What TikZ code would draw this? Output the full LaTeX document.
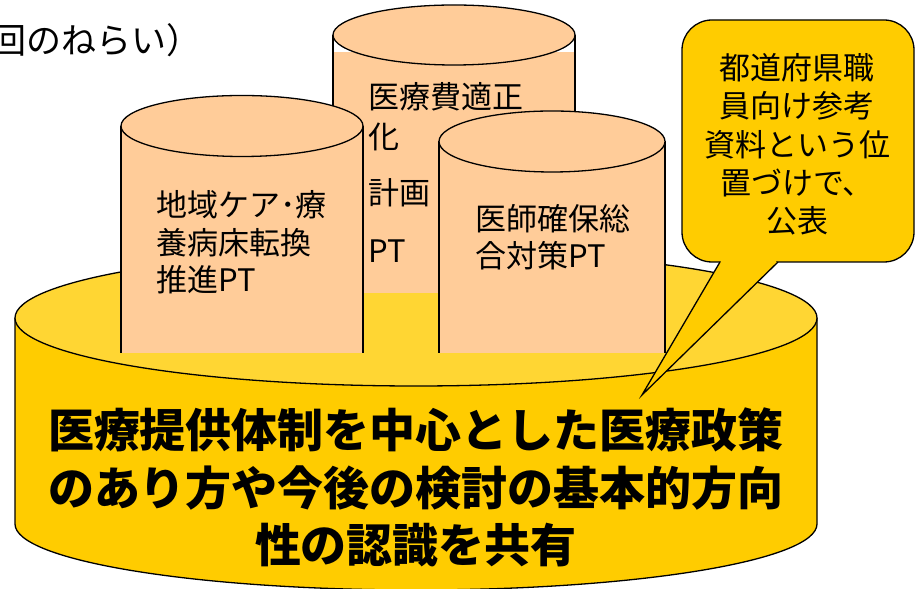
\documentclass[tikz,border=0pt]{standalone}
\usepackage{fontspec}
\setmainfont{Noto Sans CJK JP}
\definecolor{gold}{HTML}{FFCC00}
\definecolor{topgold}{HTML}{FFD633}
\definecolor{peach}{HTML}{FFCC99}
\begin{document}
\begin{tikzpicture}[x=1pt,y=1pt,
  outl/.style={draw=black, line width=1.3pt},
  smalltxt/.style={inner sep=0pt, font=\fontsize{31}{37.5}\selectfont, align=left},
  calltxt/.style={inner sep=0pt, font=\fontsize{31}{38.2}\selectfont, align=center},
  bigtxt/.style={inner sep=0pt, font=\bfseries\fontsize{46}{57.5}\selectfont, align=center}]
\useasboundingbox (0,0) rectangle (916,589);

% large base cylinder
\fill[gold] (15,271) -- (15,65) arc[start angle=180,end angle=360,x radius=401,y radius=66] -- (817,271) -- cycle;
\draw[outl] (15,271) -- (15,65) arc[start angle=180,end angle=360,x radius=401,y radius=66] -- (817,271);
\draw[outl, fill=topgold] (416,271) ellipse[x radius=401, y radius=68];

% middle cylinder (behind)
\fill[peach] (333,537) rectangle (575,296);
\draw[outl] (333,554) -- (333,296);
\draw[outl] (575,554) -- (575,296);
\draw[outl, fill=peach] (454,554) ellipse[x radius=121, y radius=30];

% left cylinder
\fill[peach] (121,463) rectangle (363,236);
\draw[outl] (121,463) -- (121,236);
\draw[outl] (363,463) -- (363,236);
\draw[outl, fill=peach] (242,463) ellipse[x radius=121, y radius=30.5];

% right cylinder
\fill[peach] (439,447.5) rectangle (665,236);
\draw[outl] (439,447.5) -- (439,236);
\draw[outl] (665,447.5) -- (665,236);
\draw[outl, fill=peach] (552,447.5) ellipse[x radius=113, y radius=30.5];

% callout
\draw[outl, fill=gold, rounded corners=30pt] (682,327) rectangle (914,569);
\coordinate (tip) at (642,194);
\coordinate (bl) at (720,327);
\coordinate (br) at (778,327);
\fill[gold] (bl) -- (tip) -- (br) -- cycle;
\fill[gold] (721,325) rectangle (776,330);
\draw[outl, line join=miter] (bl) -- (tip) -- (br);

% texts
\node[anchor=west, inner sep=0pt, font=\fontsize{35}{40}\selectfont] (title) at (-9,549) {回のねらい）};
\node[smalltxt, anchor=west] (lt) at (156,346.5) {地域ケア･療\\養病床転換\\推進PT};
\node[smalltxt, anchor=west] (m1) at (368,492) {医療費適正};
\node[smalltxt, anchor=west] (m2) at (368,452) {化};
\node[smalltxt, anchor=west] (m3) at (368,396) {計画};
\node[smalltxt, anchor=west] (m4) at (368,338) {PT};
\node[smalltxt, anchor=west] (rt) at (475,352) {医師確保総\\合対策PT};
\node[calltxt] (ct) at (797,444.5) {都道府県職\\員向け参考\\資料という位\\置づけで、\\公表};
\node[bigtxt] (bt) at (416,101.5) {医療提供体制を中心とした医療政策\\のあり方や今後の検討の基本的方向\\性の認識を共有};
\end{tikzpicture}
\end{document}
